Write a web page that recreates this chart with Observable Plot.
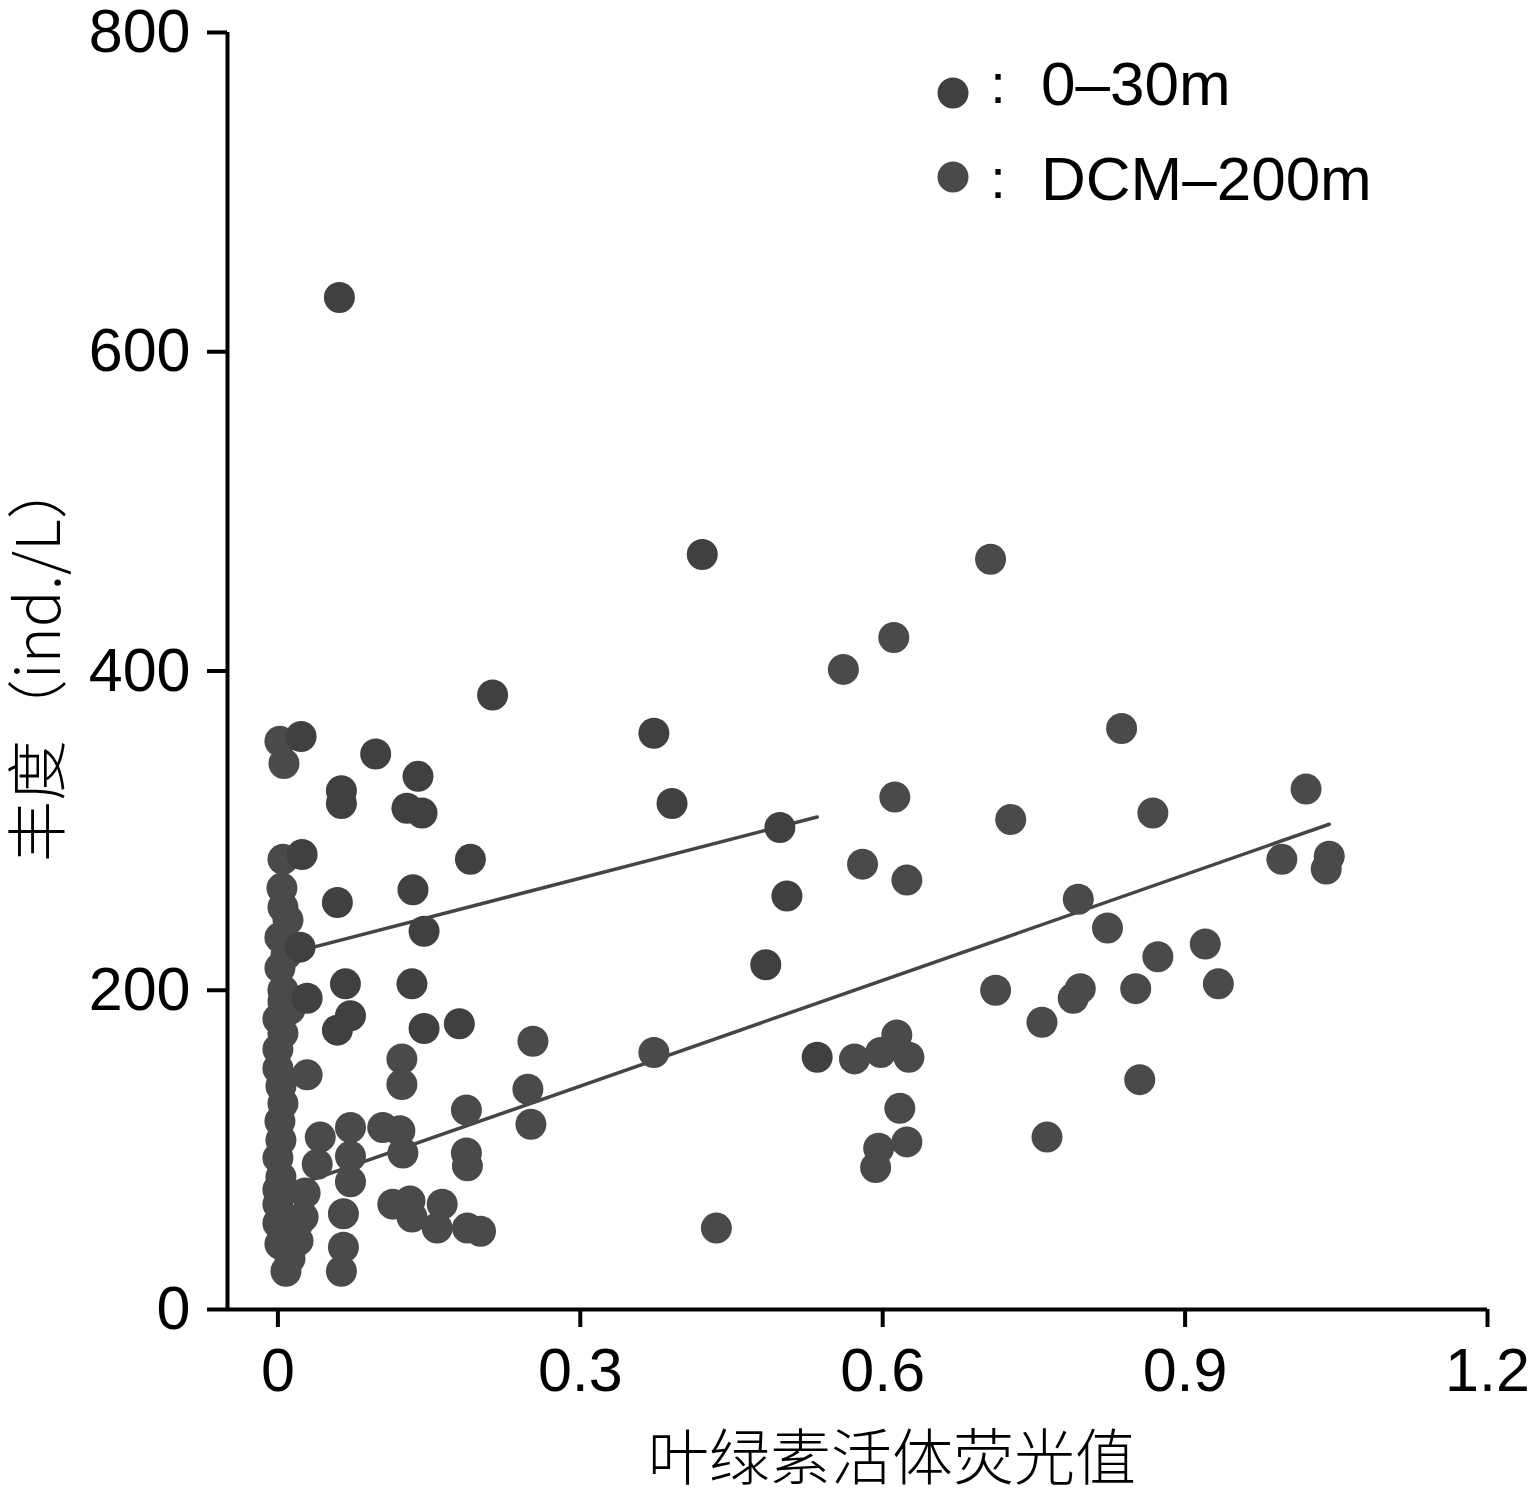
<!DOCTYPE html>
<html>
<head>
<meta charset="utf-8">
<script src="https://cdn.jsdelivr.net/npm/d3@7"></script>
<script src="https://cdn.jsdelivr.net/npm/@observablehq/plot@0.6"></script>
<style>
  html, body { margin: 0; padding: 0; background: #fff; }
  #chart svg { display: block; }
</style>
</head>
<body>
<div id="chart"></div>
<script>
// ---- Data ----
const seriesNames = ["0–30m", "DCM–200m"];
const seriesColors = ["#404040", "#4a4a4a"];

// 0–30m: chlorophyll fluorescence (x) and abundance ind./L (y)
const surfX = [0.061, 0.421, 0.213, 0.373, 0.097, 0.139, 0.063, 0.063, 0.128, 0.143,
               0.391, 0.498, 0.191, 0.134, 0.505, 0.059, 0.145, 0.484, 0.067, 0.133,
               0.072, 0.059, 0.145, 0.180, 0.535, 0.022, 0.024, 0.023, 0.029];
const surfY = [634, 473, 385, 361, 348, 334, 325, 317, 314, 311,
               317, 302, 282, 263, 259, 255, 237, 216, 204, 204,
               184, 175, 176, 179, 158, 227, 285, 359, 195];

// DCM–200m
const deepX = [0.002, 0.006, 0.005, 0.004, 0.005, 0.002, 0.002, 0.005, 0.005, 0.000,
               0.005, 0.000, 0.000, 0.003, 0.005, 0.002, 0.003, 0.000, 0.003, 0.000,
               0.000, 0.000, 0.002, 0.020, 0.020, 0.027, 0.025, 0.029, 0.012, 0.008,
               0.707, 0.611, 0.561, 0.837, 1.020, 0.612, 0.868, 0.727, 0.996, 1.043,
               1.040, 0.580, 0.624, 0.794, 0.823, 0.873, 0.920, 0.933, 0.712, 0.851,
               0.796, 0.789, 0.758, 0.614, 0.598, 0.626, 0.572, 0.855, 0.617, 0.763,
               0.624, 0.596, 0.593,
               0.373, 0.435, 0.253, 0.123, 0.123, 0.248, 0.187, 0.251, 0.072, 0.104,
               0.121, 0.124, 0.072, 0.072, 0.042, 0.039, 0.187, 0.188, 0.065, 0.065,
               0.063, 0.114, 0.131, 0.133, 0.163, 0.158, 0.188, 0.201,
               0.010, 0.008, 0.012];
const deepY = [356, 342, 282, 264, 252, 233, 214, 200, 193, 182,
               173, 163, 151, 140, 129, 118, 106, 95, 83, 75,
               66, 54, 41, 54, 43, 73, 58, 147, 32, 24,
               470, 421, 401, 364, 326, 321, 311, 307, 282, 284,
               276, 279, 269, 257, 239, 221, 229, 204, 200, 201,
               201, 195, 180, 172, 161, 158, 157, 144, 126, 108,
               105, 101, 89,
               161, 51, 168, 157, 141, 138, 125, 116, 114, 114,
               112, 98, 96, 80, 108, 91, 98, 90, 60, 39,
               24, 66, 68, 58, 66, 51, 51, 49,
               244, 222, 188];

// Linear fits (intercept, slope)
const fitIntercept = [221.2, 73.8];
const fitSlope = [163.3, 220.7];

// Axis ticks
const xDomain = [-0.05, 1.2];
const yDomain = [0, 800];
const xTicks = [0, 0.3, 0.6, 0.9, 1.2];
const xTickLabels = ["0", "0.3", "0.6", "0.9", "1.2"];
const yTicks = [0, 200, 400, 600, 800];
const yTickLabels = ["0", "200", "400", "600", "800"];

const xTitle = "叶绿素活体荧光值";
const yTitle = "丰度（ind./L）";

// ---- Build tables ----
const seriesXY = [[surfX, surfY], [deepX, deepY]];
const points = seriesXY.map(([xs, ys], i) =>
  xs.map((x, j) => ({series: seriesNames[i], x, y: ys[j]})));
const fitLines = seriesXY.flatMap(([xs], i) => {
  const [x0, x1] = d3.extent(xs);
  return [x0, x1].map(x => ({series: seriesNames[i], x, y: fitIntercept[i] + fitSlope[i] * x}));
});

const W = 1535, H = 1491;
const svg = Plot.plot({
  width: W,
  height: H,
  marginLeft: 227,
  marginRight: 48,
  marginTop: 32,
  marginBottom: 182,
  style: {fontFamily: "'Liberation Sans', Arial, sans-serif", fontSize: "61px", color: "#000", background: "#fff", overflow: "visible"},
  x: {domain: xDomain},
  y: {domain: yDomain},
  marks: [
    Plot.line(fitLines, {x: "x", y: "y", z: "series", stroke: "#454545", strokeWidth: 3.5}),
    Plot.dot(points[1], {x: "x", y: "y", r: 15.5, fill: seriesColors[1], stroke: "none"}),
    Plot.dot(points[0], {x: "x", y: "y", r: 15.5, fill: seriesColors[0], stroke: "none"}),
    Plot.ruleX([xDomain[0]], {stroke: "#000", strokeWidth: 4}),
    Plot.ruleY([yDomain[0]], {stroke: "#000", strokeWidth: 4}),
    Plot.axisX({ticks: xTicks, tickFormat: (d, i) => xTickLabels[i], tickSize: 18, tickPadding: 20, strokeWidth: 4, label: null, fontSize: 61}),
    Plot.axisY({ticks: yTicks, tickFormat: (d, i) => yTickLabels[i], tickSize: 20, tickPadding: 17, strokeWidth: 4, label: null, fontSize: 61})
  ]
});
document.getElementById("chart").appendChild(svg);

// ---- Titles and legend as real text ----
const s = d3.select(svg);
s.append("text")
  .attr("x", 892).attr("y", 1480)
  .attr("text-anchor", "middle")
  .style("font-family", "'Noto Sans CJK SC', sans-serif")
  .style("font-weight", 300)
  .style("font-size", "61px")
  .attr("fill", "#000")
  .text(xTitle);
s.append("text")
  .attr("transform", "translate(60,862) rotate(-90)")
  .attr("text-anchor", "start")
  .style("font-family", "'Noto Sans CJK SC', sans-serif")
  .style("font-weight", 300)
  .style("font-size", "61px")
  .attr("fill", "#000")
  .text(yTitle);

const legendRows = [{cy: 93, base: 105}, {cy: 177, base: 200}];
seriesNames.forEach((name, i) => {
  const g = s.append("g").attr("text-anchor", "start");
  g.append("circle").attr("cx", 953).attr("cy", legendRows[i].cy).attr("r", 15.5).attr("fill", seriesColors[i]);
  g.append("text").attr("x", 998).attr("y", legendRows[i].base - 2).attr("text-anchor", "middle")
    .style("font-family", "'Liberation Sans', Arial, sans-serif").style("font-size", "56px").text(":");
  g.append("text").attr("x", 1041).attr("y", legendRows[i].base).attr("text-anchor", "start")
    .style("font-family", "'Liberation Sans', Arial, sans-serif").style("font-size", "62px").text(name);
});
</script>
</body>
</html>
